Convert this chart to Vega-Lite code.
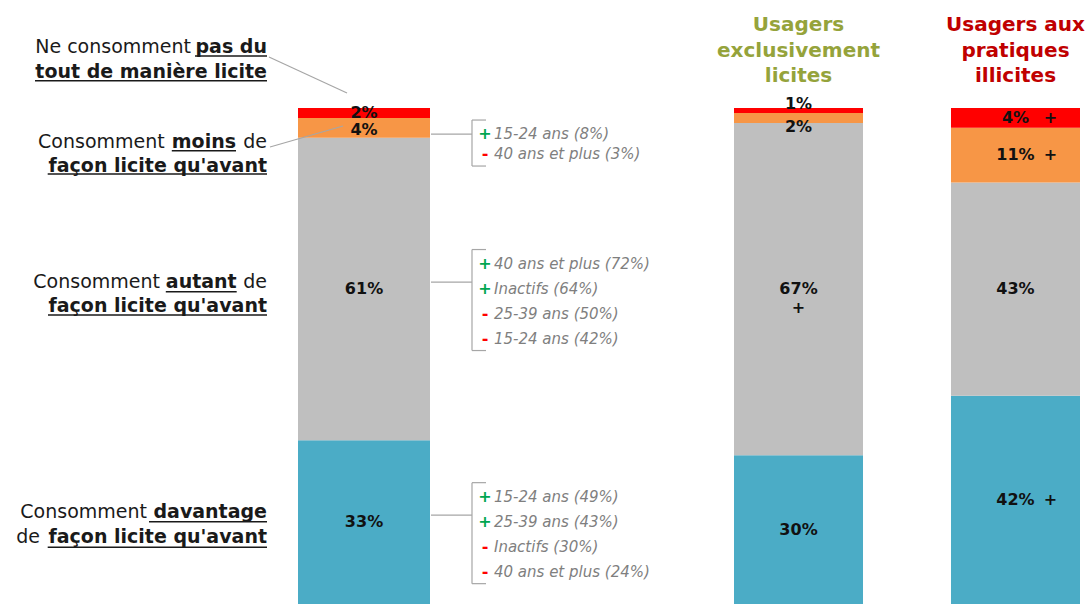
{
  "$schema": "https://vega.github.io/schema/vega-lite/v6.json",
  "autosize": {"type": "pad"},
  "padding": 0,
  "background": "#ffffff",
  "bounds": "flush",
  "spacing": 0,
  "config": {"view": {"stroke": null}, "text": {"font": "DejaVu Sans"}},
  "datasets": {
    "ensemble": [
      {"group": "Ensemble", "seg": "davantage", "ord": 1, "pct": 33, "la": "Consomment", "lb": "davantage", "lc": "", "ld": "de", "le": "façon licite qu'avant", "signs": ["+", "+", "-", "-"], "notes": ["15-24 ans (49%)", "25-39 ans (43%)", "Inactifs (30%)", "40 ans et plus (24%)"], "ranks": [1, 2, 3, 4]},
      {"group": "Ensemble", "seg": "autant", "ord": 2, "pct": 61, "la": "Consomment", "lb": "autant", "lc": "de", "ld": "", "le": "façon licite qu'avant", "signs": ["+", "+", "-", "-"], "notes": ["40 ans et plus (72%)", "Inactifs (64%)", "25-39 ans (50%)", "15-24 ans (42%)"], "ranks": [1, 2, 3, 4]},
      {"group": "Ensemble", "seg": "moins", "ord": 3, "pct": 4, "la": "Consomment", "lb": "moins", "lc": "de", "ld": "", "le": "façon licite qu'avant", "signs": ["+", "-"], "notes": ["15-24 ans (8%)", "40 ans et plus (3%)"], "ranks": [1, 2]},
      {"group": "Ensemble", "seg": "pas", "ord": 4, "pct": 2, "la": "Ne consomment", "lb": "pas du", "lc": "", "ld": "", "le": "tout de manière licite", "signs": [], "notes": [], "ranks": []}
    ],
    "groupes": [
      {"group": "licites", "seg": "davantage", "ord": 1, "pct": 30, "sig": ""},
      {"group": "licites", "seg": "autant", "ord": 2, "pct": 67, "sig": "+"},
      {"group": "licites", "seg": "moins", "ord": 3, "pct": 2, "sig": ""},
      {"group": "licites", "seg": "pas", "ord": 4, "pct": 1, "sig": ""},
      {"group": "illicites", "seg": "davantage", "ord": 1, "pct": 42, "sig": "+"},
      {"group": "illicites", "seg": "autant", "ord": 2, "pct": 43, "sig": ""},
      {"group": "illicites", "seg": "moins", "ord": 3, "pct": 11, "sig": "+"},
      {"group": "illicites", "seg": "pas", "ord": 4, "pct": 4, "sig": "+"}
    ],
    "titres": [
      {"group": "licites", "title": "Usagers|exclusivement|licites"},
      {"group": "illicites", "title": "Usagers aux|pratiques|illicites"}
    ]
  },
  "hconcat": [
    {
      "width": 298, "height": 496,
      "data": {"name": "ensemble"},
      "transform": [
        {"stack": "pct", "groupby": ["group"], "sort": [{"field": "ord", "order": "ascending"}], "as": ["y0", "y1"]},
        {"calculate": "(datum.y0 + datum.y1) / 2", "as": "mid"}
      ],
      "encoding": {"y": {"field": "mid", "type": "quantitative", "scale": {"domain": [0, 100], "nice": false}, "axis": null}},
      "layer": [
        {"transform": [{"filter": "datum.seg=='pas'"}], "mark": {"type": "text", "align": "right", "baseline": "alphabetic", "dy": -59.7, "fontSize": 19, "fontWeight": "normal", "color": "#1a1a1a"}, "encoding": {"x": {"value": 191}, "text": {"field": "la"}}},
        {"transform": [{"filter": "datum.seg=='pas'"}], "mark": {"type": "text", "align": "right", "baseline": "alphabetic", "dy": -59.7, "fontSize": 19, "fontWeight": "bold", "color": "#1a1a1a"}, "encoding": {"x": {"value": 267}, "text": {"field": "lb"}}},
        {"transform": [{"filter": "datum.seg=='pas'"}], "mark": {"type": "rule", "color": "#1a1a1a", "strokeWidth": 1.5, "yOffset": -57}, "encoding": {"x": {"value": 195}, "x2": {"value": 267}}},
        {"transform": [{"filter": "datum.seg=='pas'"}], "mark": {"type": "text", "align": "right", "baseline": "alphabetic", "dy": -35, "fontSize": 19, "fontWeight": "bold", "color": "#1a1a1a"}, "encoding": {"x": {"value": 267}, "text": {"field": "le"}}},
        {"transform": [{"filter": "datum.seg=='pas'"}], "mark": {"type": "rule", "color": "#1a1a1a", "strokeWidth": 1.5, "yOffset": -32.3}, "encoding": {"x": {"value": 35}, "x2": {"value": 267}}},

        {"transform": [{"filter": "datum.seg=='moins'"}], "mark": {"type": "text", "align": "right", "baseline": "alphabetic", "dy": 20.2, "fontSize": 19, "fontWeight": "normal", "color": "#1a1a1a"}, "encoding": {"x": {"value": 164.7}, "text": {"field": "la"}}},
        {"transform": [{"filter": "datum.seg=='moins'"}], "mark": {"type": "text", "align": "right", "baseline": "alphabetic", "dy": 20.2, "fontSize": 19, "fontWeight": "bold", "color": "#1a1a1a"}, "encoding": {"x": {"value": 236}, "text": {"field": "lb"}}},
        {"transform": [{"filter": "datum.seg=='moins'"}], "mark": {"type": "rule", "color": "#1a1a1a", "strokeWidth": 1.5, "yOffset": 22.9}, "encoding": {"x": {"value": 171.8}, "x2": {"value": 236}}},
        {"transform": [{"filter": "datum.seg=='moins'"}], "mark": {"type": "text", "align": "right", "baseline": "alphabetic", "dy": 20.2, "fontSize": 19, "fontWeight": "normal", "color": "#1a1a1a"}, "encoding": {"x": {"value": 267}, "text": {"field": "lc"}}},
        {"transform": [{"filter": "datum.seg=='moins'"}], "mark": {"type": "text", "align": "right", "baseline": "alphabetic", "dy": 43.9, "fontSize": 19, "fontWeight": "bold", "color": "#1a1a1a"}, "encoding": {"x": {"value": 267}, "text": {"field": "le"}}},
        {"transform": [{"filter": "datum.seg=='moins'"}], "mark": {"type": "rule", "color": "#1a1a1a", "strokeWidth": 1.5, "yOffset": 46.2}, "encoding": {"x": {"value": 47.7}, "x2": {"value": 267}}},

        {"transform": [{"filter": "datum.seg=='autant'"}], "mark": {"type": "text", "align": "right", "baseline": "alphabetic", "dy": -1.3, "fontSize": 19, "fontWeight": "normal", "color": "#1a1a1a"}, "encoding": {"x": {"value": 160}, "text": {"field": "la"}}},
        {"transform": [{"filter": "datum.seg=='autant'"}], "mark": {"type": "text", "align": "right", "baseline": "alphabetic", "dy": -1.3, "fontSize": 19, "fontWeight": "bold", "color": "#1a1a1a"}, "encoding": {"x": {"value": 236.7}, "text": {"field": "lb"}}},
        {"transform": [{"filter": "datum.seg=='autant'"}], "mark": {"type": "rule", "color": "#1a1a1a", "strokeWidth": 1.5, "yOffset": 2.7}, "encoding": {"x": {"value": 165.8}, "x2": {"value": 236.7}}},
        {"transform": [{"filter": "datum.seg=='autant'"}], "mark": {"type": "text", "align": "right", "baseline": "alphabetic", "dy": -1.3, "fontSize": 19, "fontWeight": "normal", "color": "#1a1a1a"}, "encoding": {"x": {"value": 267}, "text": {"field": "lc"}}},
        {"transform": [{"filter": "datum.seg=='autant'"}], "mark": {"type": "text", "align": "right", "baseline": "alphabetic", "dy": 22.7, "fontSize": 19, "fontWeight": "bold", "color": "#1a1a1a"}, "encoding": {"x": {"value": 267}, "text": {"field": "le"}}},
        {"transform": [{"filter": "datum.seg=='autant'"}], "mark": {"type": "rule", "color": "#1a1a1a", "strokeWidth": 1.5, "yOffset": 26}, "encoding": {"x": {"value": 48}, "x2": {"value": 267}}},

        {"transform": [{"filter": "datum.seg=='davantage'"}], "mark": {"type": "text", "align": "right", "baseline": "alphabetic", "dy": -3.9, "fontSize": 19, "fontWeight": "normal", "color": "#1a1a1a"}, "encoding": {"x": {"value": 147}, "text": {"field": "la"}}},
        {"transform": [{"filter": "datum.seg=='davantage'"}], "mark": {"type": "text", "align": "right", "baseline": "alphabetic", "dy": -3.9, "fontSize": 19, "fontWeight": "bold", "color": "#1a1a1a"}, "encoding": {"x": {"value": 267}, "text": {"field": "lb"}}},
        {"transform": [{"filter": "datum.seg=='davantage'"}], "mark": {"type": "rule", "color": "#1a1a1a", "strokeWidth": 1.5, "yOffset": -0.5}, "encoding": {"x": {"value": 149}, "x2": {"value": 267}}},
        {"transform": [{"filter": "datum.seg=='davantage'"}], "mark": {"type": "text", "align": "right", "baseline": "alphabetic", "dy": 21.1, "fontSize": 19, "fontWeight": "normal", "color": "#1a1a1a"}, "encoding": {"x": {"value": 40}, "text": {"field": "ld"}}},
        {"transform": [{"filter": "datum.seg=='davantage'"}], "mark": {"type": "text", "align": "right", "baseline": "alphabetic", "dy": 21.1, "fontSize": 19, "fontWeight": "bold", "color": "#1a1a1a"}, "encoding": {"x": {"value": 267}, "text": {"field": "le"}}},
        {"transform": [{"filter": "datum.seg=='davantage'"}], "mark": {"type": "rule", "color": "#1a1a1a", "strokeWidth": 1.5, "yOffset": 25.1}, "encoding": {"x": {"value": 47.7}, "x2": {"value": 267}}}
      ]
    },
    {
      "width": 132, "height": 496,
      "data": {"name": "ensemble"},
      "transform": [
        {"stack": "pct", "groupby": ["group"], "sort": [{"field": "ord", "order": "ascending"}], "as": ["y0", "y1"]},
        {"calculate": "(datum.y0 + datum.y1) / 2", "as": "mid"},
        {"calculate": "datum.pct + '%'", "as": "lab"}
      ],
      "encoding": {"x": {"field": "group", "type": "nominal", "scale": {"paddingInner": 0, "paddingOuter": 0}, "axis": null}},
      "layer": [
        {"mark": {"type": "bar"}, "encoding": {
          "y": {"field": "y1", "type": "quantitative", "scale": {"domain": [0, 100], "nice": false}, "axis": null},
          "y2": {"field": "y0"},
          "color": {"field": "seg", "type": "nominal", "scale": {"domain": ["davantage", "autant", "moins", "pas"], "range": ["#4BACC6", "#BFBFBF", "#F79646", "#FF0000"]}, "legend": null}}},
        {"transform": [{"filter": "datum.seg!='moins'"}], "mark": {"type": "text", "fontSize": 16, "fontWeight": "bold", "baseline": "middle", "color": "#111111"}, "encoding": {
          "y": {"field": "mid", "type": "quantitative", "scale": {"domain": [0, 100], "nice": false}, "axis": null},
          "text": {"field": "lab"}}},
        {"transform": [{"filter": "datum.seg=='moins'"}], "mark": {"type": "text", "fontSize": 16, "fontWeight": "bold", "baseline": "middle", "dy": 2, "color": "#111111"}, "encoding": {
          "y": {"field": "mid", "type": "quantitative", "scale": {"domain": [0, 100], "nice": false}, "axis": null},
          "text": {"field": "lab"}}},
        {"transform": [{"filter": "datum.seg=='pas'"}], "mark": {"type": "rule", "color": "#A6A6A6", "strokeWidth": 1.2, "yOffset": -56, "y2Offset": -20}, "encoding": {
          "x": {"value": -29}, "x2": {"value": 49},
          "y": {"field": "mid", "type": "quantitative", "scale": {"domain": [0, 100], "nice": false}, "axis": null},
          "y2": {"field": "mid"}}},
        {"transform": [{"filter": "datum.seg=='moins'"}], "mark": {"type": "rule", "color": "#A6A6A6", "strokeWidth": 1.2, "yOffset": 19.2, "y2Offset": -1.8}, "encoding": {
          "x": {"value": -28}, "x2": {"value": 45},
          "y": {"field": "mid", "type": "quantitative", "scale": {"domain": [0, 100], "nice": false}, "axis": null},
          "y2": {"field": "mid"}}}
      ]
    },
    {
      "width": 304, "height": 496,
      "data": {"name": "ensemble"},
      "transform": [
        {"stack": "pct", "groupby": ["group"], "sort": [{"field": "ord", "order": "ascending"}], "as": ["y0", "y1"]},
        {"calculate": "(datum.y0 + datum.y1) / 2", "as": "mid"},
        {"flatten": ["signs", "notes", "ranks"], "as": ["sign", "note", "rank"]},
        {"calculate": "datum.mid - (datum.seg=='moins' ? (6.2 + (datum.rank-1)*20) : (-25.5 + (datum.rank-1)*25)) / 4.96", "as": "ny"}
      ],
      "layer": [
        {"mark": {"type": "text", "align": "center", "baseline": "middle", "fontSize": 16, "fontWeight": "bold"}, "encoding": {
          "x": {"value": 55},
          "y": {"field": "ny", "type": "quantitative", "scale": {"domain": [0, 100], "nice": false}, "axis": null},
          "text": {"field": "sign"},
          "color": {"condition": {"test": "datum.sign=='+'", "value": "#00A651"}, "value": "#FF0000"}}},
        {"mark": {"type": "text", "align": "left", "baseline": "middle", "fontSize": 15, "fontStyle": "italic", "color": "#7F7F7F"}, "encoding": {
          "x": {"value": 64},
          "y": {"field": "ny", "type": "quantitative", "scale": {"domain": [0, 100], "nice": false}, "axis": null},
          "text": {"field": "note"}}},
        {
          "transform": [
            {"aggregate": [{"op": "max", "field": "ny", "as": "top"}, {"op": "min", "field": "ny", "as": "bot"}, {"op": "mean", "field": "mid", "as": "m"}], "groupby": ["seg"]},
            {"calculate": "datum.seg=='moins' ? datum.top : datum.m + 7/4.96", "as": "conn"}
          ],
          "layer": [
            {"mark": {"type": "rule", "color": "#A6A6A6", "strokeWidth": 1.2, "yOffset": -14, "y2Offset": 12}, "encoding": {
              "x": {"value": 42},
              "y": {"field": "top", "type": "quantitative", "scale": {"domain": [0, 100], "nice": false}, "axis": null},
              "y2": {"field": "bot"}}},
            {"mark": {"type": "rule", "color": "#A6A6A6", "strokeWidth": 1.2, "yOffset": -14}, "encoding": {
              "x": {"value": 42}, "x2": {"value": 56},
              "y": {"field": "top", "type": "quantitative", "scale": {"domain": [0, 100], "nice": false}, "axis": null}}},
            {"mark": {"type": "rule", "color": "#A6A6A6", "strokeWidth": 1.2, "yOffset": 12}, "encoding": {
              "x": {"value": 42}, "x2": {"value": 56},
              "y": {"field": "bot", "type": "quantitative", "scale": {"domain": [0, 100], "nice": false}, "axis": null}}},
            {"mark": {"type": "rule", "color": "#A6A6A6", "strokeWidth": 1.2}, "encoding": {
              "x": {"value": 1}, "x2": {"value": 42},
              "y": {"field": "conn", "type": "quantitative", "scale": {"domain": [0, 100], "nice": false}, "axis": null}}}
          ]
        }
      ]
    },
    {
      "width": 346, "height": 496,
      "data": {"name": "groupes"},
      "transform": [
        {"stack": "pct", "groupby": ["group"], "sort": [{"field": "ord", "order": "ascending"}], "as": ["y0", "y1"]},
        {"calculate": "(datum.y0 + datum.y1) / 2", "as": "mid"},
        {"calculate": "datum.pct + '%'", "as": "lab"}
      ],
      "encoding": {"x": {"field": "group", "type": "nominal", "scale": {"domain": ["licites", "illicites"], "paddingInner": 0.4055, "paddingOuter": 0}, "axis": null}},
      "layer": [
        {"mark": {"type": "bar"}, "encoding": {
          "y": {"field": "y1", "type": "quantitative", "scale": {"domain": [0, 100], "nice": false}, "axis": null},
          "y2": {"field": "y0"},
          "color": {"field": "seg", "type": "nominal", "scale": {"domain": ["davantage", "autant", "moins", "pas"], "range": ["#4BACC6", "#BFBFBF", "#F79646", "#FF0000"]}, "legend": null}}},
        {"transform": [{"filter": "datum.pct >= 3"}], "mark": {"type": "text", "fontSize": 16, "fontWeight": "bold", "baseline": "middle", "color": "#111111"}, "encoding": {
          "y": {"field": "mid", "type": "quantitative", "scale": {"domain": [0, 100], "nice": false}, "axis": null},
          "text": {"field": "lab"}}},
        {"transform": [{"filter": "datum.group=='licites' && datum.seg=='pas'"}], "mark": {"type": "text", "fontSize": 16, "fontWeight": "bold", "baseline": "middle", "dy": -6.5, "color": "#111111"}, "encoding": {
          "y": {"field": "mid", "type": "quantitative", "scale": {"domain": [0, 100], "nice": false}, "axis": null},
          "text": {"field": "lab"}}},
        {"transform": [{"filter": "datum.group=='licites' && datum.seg=='moins'"}], "mark": {"type": "text", "fontSize": 16, "fontWeight": "bold", "baseline": "middle", "dy": 9, "color": "#111111"}, "encoding": {
          "y": {"field": "mid", "type": "quantitative", "scale": {"domain": [0, 100], "nice": false}, "axis": null},
          "text": {"field": "lab"}}},
        {"transform": [{"filter": "datum.group=='licites' && datum.sig=='+'"}], "mark": {"type": "text", "fontSize": 16, "fontWeight": "bold", "baseline": "middle", "dy": 19, "color": "#111111"}, "encoding": {
          "y": {"field": "mid", "type": "quantitative", "scale": {"domain": [0, 100], "nice": false}, "axis": null},
          "text": {"field": "sig"}}},
        {"transform": [{"filter": "datum.group=='illicites' && datum.sig=='+'"}], "mark": {"type": "text", "fontSize": 16, "fontWeight": "bold", "baseline": "middle", "dx": 35, "color": "#111111"}, "encoding": {
          "y": {"field": "mid", "type": "quantitative", "scale": {"domain": [0, 100], "nice": false}, "axis": null},
          "text": {"field": "sig"}}},
        {"data": {"name": "titres"}, "mark": {"type": "text", "baseline": "middle", "lineBreak": "|", "lineHeight": 25.5, "fontSize": 20, "fontWeight": "bold", "dy": -83}, "encoding": {
          "y": {"datum": 100, "type": "quantitative", "scale": {"domain": [0, 100], "nice": false}, "axis": null},
          "text": {"field": "title"},
          "color": {"condition": {"test": "datum.group=='licites'", "value": "#95A33B"}, "value": "#C00000"}}},
        {"data": {"name": "titres"}, "transform": [{"filter": "datum.group=='licites'"}], "mark": {"type": "rule", "strokeWidth": 1, "opacity": 0, "yOffset": -108}, "encoding": {
          "x": {"value": 0},
          "y": {"datum": 100, "type": "quantitative", "scale": {"domain": [0, 100], "nice": false}, "axis": null},
          "y2": {"datum": 100}}}
      ]
    }
  ]
}
